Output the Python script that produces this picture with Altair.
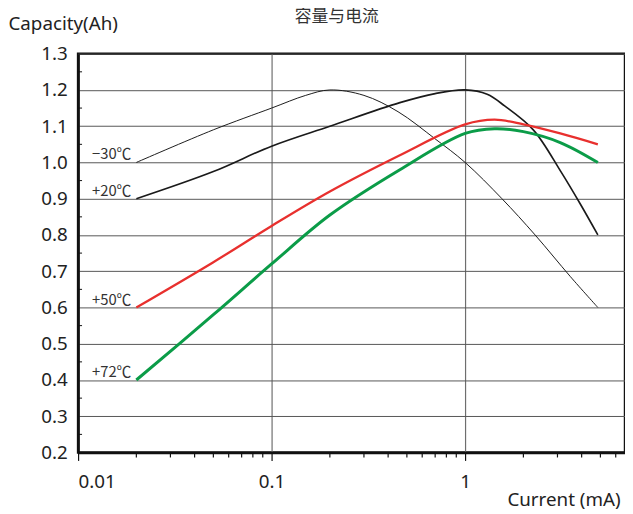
import altair as alt
import pandas as pd

# ---- data ----
series_names = ["−30℃", "+20℃", "+50℃", "+72℃"]

x_m30 = [0.02, 0.05, 0.1, 0.15, 0.2, 0.3, 0.45, 0.7, 1.0, 1.55, 2.3, 3.5, 4.85]
y_m30 = [1.0, 1.09, 1.15, 1.185, 1.2, 1.185, 1.14, 1.065, 1.0, 0.9, 0.8, 0.685, 0.6]

x_p20 = [0.02, 0.05, 0.1, 0.2, 0.46, 0.7, 1.0, 1.3, 1.6, 2.25, 3.13, 3.95, 4.85]
y_p20 = [0.9, 0.975, 1.045, 1.1, 1.165, 1.19, 1.2, 1.188, 1.156, 1.09, 0.974, 0.884, 0.8]

x_p50 = [0.02, 0.05, 0.1, 0.2, 0.46, 1.0, 1.42, 2.0, 3.1, 4.85]
y_p50 = [0.6, 0.725, 0.825, 0.92, 1.02, 1.105, 1.118, 1.105, 1.08, 1.05]

x_p72 = [0.02, 0.05, 0.1, 0.2, 0.46, 1.0, 1.42, 2.0, 3.1, 4.85]
y_p72 = [0.4, 0.58, 0.72, 0.855, 0.98, 1.08, 1.093, 1.085, 1.055, 1.0]

y_ticks = [0.2, 0.3, 0.4, 0.5, 0.6, 0.7, 0.8, 0.9, 1.0, 1.1, 1.2, 1.3]
y_minor = [0.25, 0.35, 0.45, 0.55, 0.65, 0.75, 0.85, 0.95, 1.05, 1.15, 1.25]
x_major = [0.01, 0.1, 1]
x_minor = [0.02, 0.03, 0.04, 0.05, 0.06, 0.07, 0.08, 0.09,
           0.2, 0.3, 0.4, 0.5, 0.6, 0.7, 0.8, 0.9,
           2, 3, 4, 5, 6]

colors = ["#1a1a1a", "#1a1a1a", "#e8302e", "#0b9c48"]
widths = [1.0, 3.0, 2.5, 2.5]

# ---- tables ----
rows = []
for name, xs, ys in zip(series_names, [x_m30, x_p20, x_p50, x_p72],
                        [y_m30, y_p20, y_p50, y_p72]):
    for i, (a, b) in enumerate(zip(xs, ys)):
        rows.append({"series": name, "x": a, "y": b, "i": i})
df = pd.DataFrame(rows)
df_lab = df[df["i"] == 0]
df_xminor = pd.DataFrame({"x": x_minor})
df_yminor = pd.DataFrame({"y": y_minor})

W, H = 554, 404
xscale = alt.Scale(type="log", domain=[0.01, 6.7], nice=False)
yscale = alt.Scale(domain=[0.2, 1.3], nice=False, zero=False)
FONT = "Noto Sans"

xaxis = alt.Axis(values=x_major, format="~g", grid=True, gridColor="#6e6e6e",
                 gridWidth=1.2, tickSize=8, tickColor="#111", tickWidth=1.2,
                 domainColor="#111", domainWidth=2.5,
                 labelFont=FONT, labelFontSize=19, labelColor="#222", labelPadding=12,
                 title="Current (mA)", titleFont=FONT, titleFontSize=19,
                 titleFontWeight="normal", titleColor="#222",
                 titleAlign="right", titleAnchor="end", titleBaseline="middle",
                 titleX=549, titleY=48)
yaxis = alt.Axis(values=y_ticks, format=".1f", grid=True, gridColor="#555",
                 gridWidth=1, ticks=False, domainColor="#111", domainWidth=2.5,
                 labelFont=FONT, labelFontSize=19, labelColor="#222", labelPadding=11,
                 title="Capacity(Ah)", titleFont=FONT, titleFontSize=19,
                 titleFontWeight="normal", titleColor="#222", titleAngle=0,
                 titleAlign="left", titleBaseline="middle",
                 titleX=-71, titleY=-30)

lines = alt.Chart(df).mark_line(interpolate="catmull-rom").encode(
    x=alt.X("x:Q", scale=xscale, axis=xaxis),
    y=alt.Y("y:Q", scale=yscale, axis=yaxis),
    color=alt.Color("series:N", scale=alt.Scale(domain=series_names, range=colors), legend=None),
    strokeWidth=alt.StrokeWidth("series:N", scale=alt.Scale(domain=series_names, range=widths),
                                legend=None),
    detail="series:N",
    order="i:Q",
)

xminor = alt.Chart(df_xminor).mark_rule(color="#111", strokeWidth=1.2).encode(
    x=alt.X("x:Q", scale=xscale, axis=xaxis),
    y=alt.value(H),
    y2=alt.value(H + 5),
)

yminor = alt.Chart(df_yminor).mark_rule(color="#111", strokeWidth=1).encode(
    y=alt.Y("y:Q", scale=yscale, axis=yaxis),
    x=alt.value(0),
    x2=alt.value(4),
)

labels = alt.Chart(df_lab).mark_text(
    align="right", baseline="bottom", dx=-5, dy=0,
    font="Noto Sans CJK SC", fontSize=15, color="#333"
).encode(
    x=alt.X("x:Q", scale=xscale, axis=xaxis),
    y=alt.Y("y:Q", scale=yscale, axis=yaxis),
    text="series:N",
)

title = alt.Chart(pd.DataFrame({"t": ["容量与电流"]})).mark_text(
    align="center", baseline="middle", font="Noto Sans CJK SC", fontSize=17, color="#333"
).encode(
    x=alt.value(262),
    y=alt.value(-37),
    text="t:N",
)

chart = alt.layer(lines, xminor, yminor, labels, title).properties(
    width=W, height=H,
    autosize="none",
    padding={"left": 71, "top": 43, "right": 0, "bottom": 59},
).configure_view(stroke="#111", strokeWidth=2.5)

chart.save("out.html", embed_options={"renderer": "svg", "actions": False})
